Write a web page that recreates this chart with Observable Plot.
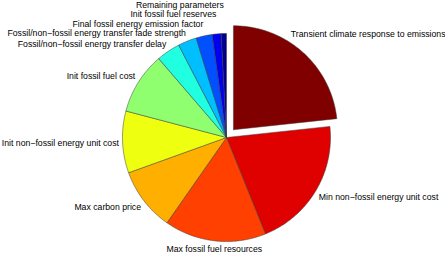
<!DOCTYPE html>
<html>
<head>
<meta charset="utf-8">
<script src="https://cdn.jsdelivr.net/npm/d3@7"></script>
<script src="https://cdn.jsdelivr.net/npm/@observablehq/plot@0.6"></script>
<style>
  html, body { margin: 0; padding: 0; background: #fff; }
  #chart svg { display: block; }
</style>
</head>
<body>
<div id="chart"></div>
<script>
// Slice labels (clockwise from 12 o'clock)
const labels = [
  "Transient climate response to emissions",
  "Min non−fossil energy unit cost",
  "Max fossil fuel resources",
  "Max carbon price",
  "Init non−fossil energy unit cost",
  "Init fossil fuel cost",
  "Fossil/non−fossil energy transfer delay",
  "Fossil/non−fossil energy transfer fade strength",
  "Final fossil energy emission factor",
  "Init fossil fuel reserves",
  "Remaining parameters"
];
// Share of each slice (percent, estimated)
const shares = [23.3, 20.6, 15.8, 9.8, 9.6, 9.6, 3.7, 2.9, 2.5, 1.4, 0.8];
// Exploded slices
const explode = [1, 0, 0, 0, 0, 0, 0, 0, 0, 0, 0];
// Slice colours (jet colormap)
const colors = ["#800000", "#df0000", "#ff4000", "#ffaf00", "#efff10", "#8fff70",
                "#20ffdf", "#00bfff", "#0050ff", "#0000ef", "#00008f"];

const W = 445, H = 256;
const R = 104;                      // pie radius in pixels (1 data unit)
const xDomain = [-2.173, 2.106];
const yDomain = [-1.317, 1.144];
const explodeDist = 0.1;
const labelRadius = 1.035;          // nearest corner of label box sits on this circle
const fontSize = 8.7;
const fontFamily = "Liberation Sans, Arial, Helvetica, sans-serif";
const lineGap = 9.5 / R;            // minimum vertical gap between stacked labels
const halfH = 4.4 / R;              // half height of a label box

const ctx = document.createElement("canvas").getContext("2d");
ctx.font = `${fontSize}px ${fontFamily}`;
const textW = s => ctx.measureText(s).width / R;

const total = d3.sum(shares);
let a0 = 0;
const slices = shares.map((v, i) => {
  const a1 = a0 + v / total * 2 * Math.PI;
  const mid = (a0 + a1) / 2;
  const ox = explode[i] ? explodeDist * Math.sin(mid) : 0;
  const oy = explode[i] ? -explodeDist * Math.cos(mid) : 0;
  const s = {i, name: labels[i], color: colors[i], a0, a1, mid, ox, oy};
  a0 = a1;
  return s;
});

// polygon points for each slice
const pts = [];
for (const s of slices) {
  const n = Math.max(2, Math.ceil((s.a1 - s.a0) / (Math.PI / 180)));
  pts.push({name: s.name, color: s.color, x: s.ox, y: s.oy});
  for (let k = 0; k <= n; ++k) {
    const a = s.a0 + (s.a1 - s.a0) * k / n;
    pts.push({name: s.name, color: s.color, x: s.ox + Math.sin(a), y: s.oy - Math.cos(a)});
  }
  pts.push({name: s.name, color: s.color, x: s.ox, y: s.oy});
}

// label positions: nearest corner of the text box on a circle around the slice centre
const lab = slices.map(s => {
  const sx = Math.sin(s.mid), cy = -Math.cos(s.mid);
  const w = textW(s.name);
  let anchor = sx < 0 ? "end" : "start";
  if (Math.abs(sx) < 0.3 && cy > 0) anchor = "middle";
  let x = s.ox + labelRadius * sx;
  let cyy = s.oy + labelRadius * cy;          // corner y
  // keep inside the picture: slide along the circle
  if (anchor === "start" && x + w > xDomain[1]) {
    x = xDomain[1] - w;
    const dx = x - s.ox;
    cyy = s.oy + Math.sign(cy) * Math.sqrt(Math.max(0, labelRadius ** 2 - dx * dx));
  } else if (anchor === "end" && x - w < xDomain[0]) {
    x = xDomain[0] + w;
    const dx = x - s.ox;
    cyy = s.oy + Math.sign(cy) * Math.sqrt(Math.max(0, labelRadius ** 2 - dx * dx));
  }
  const y = cyy + halfH * Math.max(-1, Math.min(1, cy * 3));
  return {name: s.name, x, y, anchor, side: sx < 0 ? "L" : "R", upper: cy < 0};
});
// resolve overlaps among upper-left labels (push upward)
const ul = lab.filter(d => d.side === "L" && d.upper).sort((a, b) => b.y - a.y);
for (let k = 1; k < ul.length; ++k) {
  if (ul[k].y > ul[k - 1].y - lineGap) ul[k].y = ul[k - 1].y - lineGap;
}

const textOpts = {x: "x", y: "y", text: "name", fontSize, fill: "black",
  fontFamily, lineAnchor: "middle"};

const chart = Plot.plot({
  width: W,
  height: H,
  margin: 0,
  x: {domain: xDomain, range: [0, W], axis: null},
  y: {domain: yDomain, range: [0, H], axis: null},
  color: {type: "identity"},
  style: {background: "#fff"},
  marks: [
    Plot.line(pts, {x: "x", y: "y", z: "name", fill: "color", stroke: "#3a3a3a", strokeWidth: 0.5, curve: "linear"}),
    Plot.text(lab.filter(d => d.anchor === "start"), {...textOpts, textAnchor: "start"}),
    Plot.text(lab.filter(d => d.anchor === "end"), {...textOpts, textAnchor: "end"}),
    Plot.text(lab.filter(d => d.anchor === "middle"), {...textOpts, textAnchor: "middle"})
  ]
});
document.getElementById("chart").append(chart);
</script>
</body>
</html>
